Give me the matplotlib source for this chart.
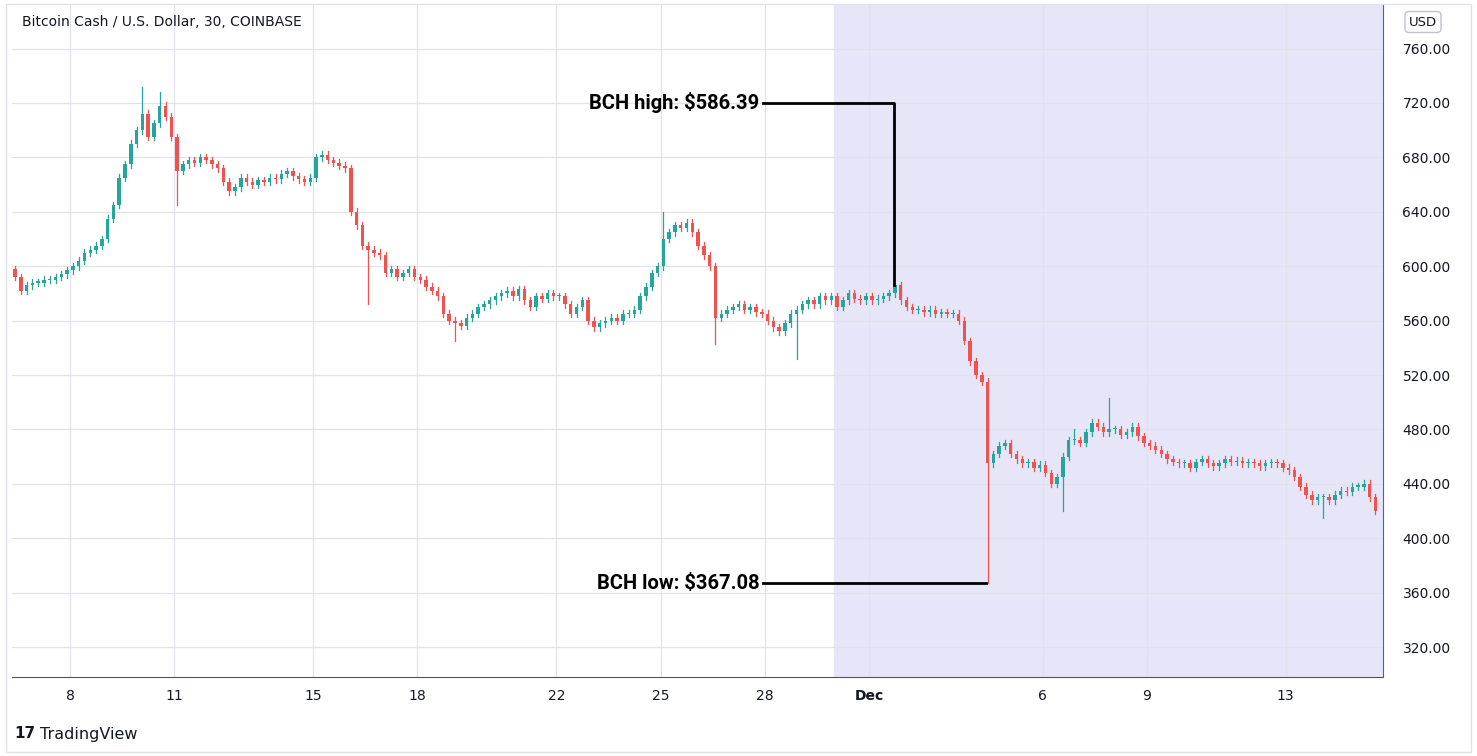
import matplotlib
matplotlib.use("Agg")
import matplotlib.pyplot as plt
from matplotlib.patches import Rectangle
import numpy as np

# 4-hour closes starting Nov 6 08:00 (x in days of November; Dec d = 30 + d)
closes = [
    592, 582, 586, 588,
    588, 590, 590, 592, 594, 597,
    600, 604, 610, 612, 615, 620,
    635, 645, 665, 675, 690, 700,
    712, 695, 705, 718, 710, 695,
    670, 675, 678, 676, 680, 678,
    675, 672, 662, 655, 658, 665,
    662, 660, 663, 662, 665, 664,
    668, 670, 666, 664, 662, 665,
    680, 682, 678, 676, 674, 672,
    640, 630, 615, 612, 610, 608,
    595, 598, 592, 595, 598, 592,
    590, 585, 582, 578, 565, 560,
    558, 556, 562, 565, 570, 572,
    575, 578, 580, 582, 578, 583,
    575, 570, 578, 576, 580, 578,
    578, 572, 565, 570, 575, 560,
    555, 558, 560, 562, 560, 565,
    565, 568, 578, 585, 595, 600,
    620, 625, 630, 628, 632, 625,
    615, 608, 600, 562, 565, 568,
    570, 572, 568, 570, 566, 565,
    560, 555, 552, 558, 565, 568,
    572, 575, 572, 578, 575, 578,
    570, 575, 580, 576, 575, 578,
    575, 576, 578, 580, 586, 575,
    570, 568, 568, 566, 568, 565,
    566, 565, 565, 560, 545, 530,
    520, 515, 455, 462, 468, 470,
    462, 458, 455, 456, 452, 454,
    448, 440, 445, 460, 472, 472,
    470, 478, 485, 482, 478, 480,
    480, 476, 478, 482, 475, 470,
    468, 465, 462, 458, 456, 455,
    455, 452, 456, 458, 455, 453,
    455, 458, 456, 457, 455, 456,
    455, 453, 455, 456, 455, 452,
    450, 445, 438, 432, 428, 430,
    430, 428, 432, 435, 434, 438,
    438, 440, 430, 420,
]
first_open = 598
spike_highs = {22: 732, 25: 728, 112: 640, 152: 586.39, 189: 503, 183: 480}
spike_lows = {28: 645, 61: 572, 76: 545, 121: 543, 135: 532, 168: 367.08, 181: 420, 226: 415}

x_ticks = [8, 11, 15, 18, 22, 25, 28, 31, 36, 39, 43]
x_labels = ["8", "11", "15", "18", "22", "25", "28", "Dec", "6", "9", "13"]
y_ticks = [320, 360, 400, 440, 480, 520, 560, 600, 640, 680, 720, 760]

UP, DOWN = "#26a69a", "#ef5350"
fig = plt.figure(figsize=(14.77, 7.56), dpi=100)
ax = fig.add_axes([12/1477, 79/756, 1371/1477, 672/756])
ax.set_xlim(6.33, 45.8)
ax.set_ylim(298, 792)

ax.axvspan(30.0, 45.8, color="#e6e6f8", zorder=0)

step = 1/6
opens = [first_open] + closes[:-1]
for i, (o, c) in enumerate(zip(opens, closes)):
    x = 6.333 + i*step + step/2
    col = UP if c >= o else DOWN
    hi = spike_highs.get(i, max(o, c) + 2.5)
    lo = spike_lows.get(i, min(o, c) - 2.5)
    ax.plot([x, x], [lo, hi], color=col, lw=0.9, zorder=3)
    h = max(abs(c - o), 0.8)
    ax.add_patch(Rectangle((x - step*0.3, min(o, c)), step*0.6, h, color=col, zorder=3, lw=0))

ax.set_xticks(x_ticks)
ax.set_xticklabels(x_labels)
for lab in ax.get_xticklabels():
    if lab.get_text() == "Dec":
        lab.set_fontweight("bold")
ax.set_yticks(y_ticks)
ax.set_yticklabels([f"{v:.2f}" for v in y_ticks])
ax.yaxis.tick_right()
ax.tick_params(axis="both", length=0, labelsize=10, colors="#131722")
ax.tick_params(axis="y", pad=14)
ax.tick_params(axis="x", pad=9)
ax.grid(True, color="#e0e3eb", lw=0.9, zorder=1)
for s in ["top", "left"]:
    ax.spines[s].set_visible(False)
ax.spines["right"].set_color("#2962ff")
ax.spines["right"].set_zorder(10)
ax.spines["bottom"].set_color("#50535e")

# annotations
xh, xl = 31.72, 34.37
ax.plot([27.95, xh, xh], [720, 720, 586.39], color="black", lw=2, zorder=5)
ax.plot([27.95, xl], [367.08, 367.08], color="black", lw=2, zorder=5)
ax.text(27.85, 720, "BCH high: $586.39", ha="right", va="center", fontsize=14.5,
        fontweight="bold", family="Roboto", zorder=6)
ax.text(27.85, 367.08, "BCH low: $367.08", ha="right", va="center", fontsize=14.5,
        fontweight="bold", family="Roboto", zorder=6)

fig.text(22/1477, 1 - 22/756, "Bitcoin Cash / U.S. Dollar, 30, COINBASE", fontsize=10,
         color="#131722", va="center")
fig.text(1423/1477, 1 - 22/756, "USD", fontsize=9.5, color="#131722", va="center", ha="center",
         bbox=dict(boxstyle="round,pad=0.3", fc="white", ec="#c0c3cb"))
fig.text(40/1477, 1 - 734/756, "TradingView", fontsize=11.5, color="#131722", va="center")
fig.text(14/1477, 1 - 734/756, "17", fontsize=11, fontweight="bold", color="#131722", va="center")
fig.add_artist(Rectangle((0.004, 0.005), 0.992, 0.99, transform=fig.transFigure,
                         fill=False, ec="#e0e3eb", lw=1))
fig.savefig("out.png", dpi=100)
